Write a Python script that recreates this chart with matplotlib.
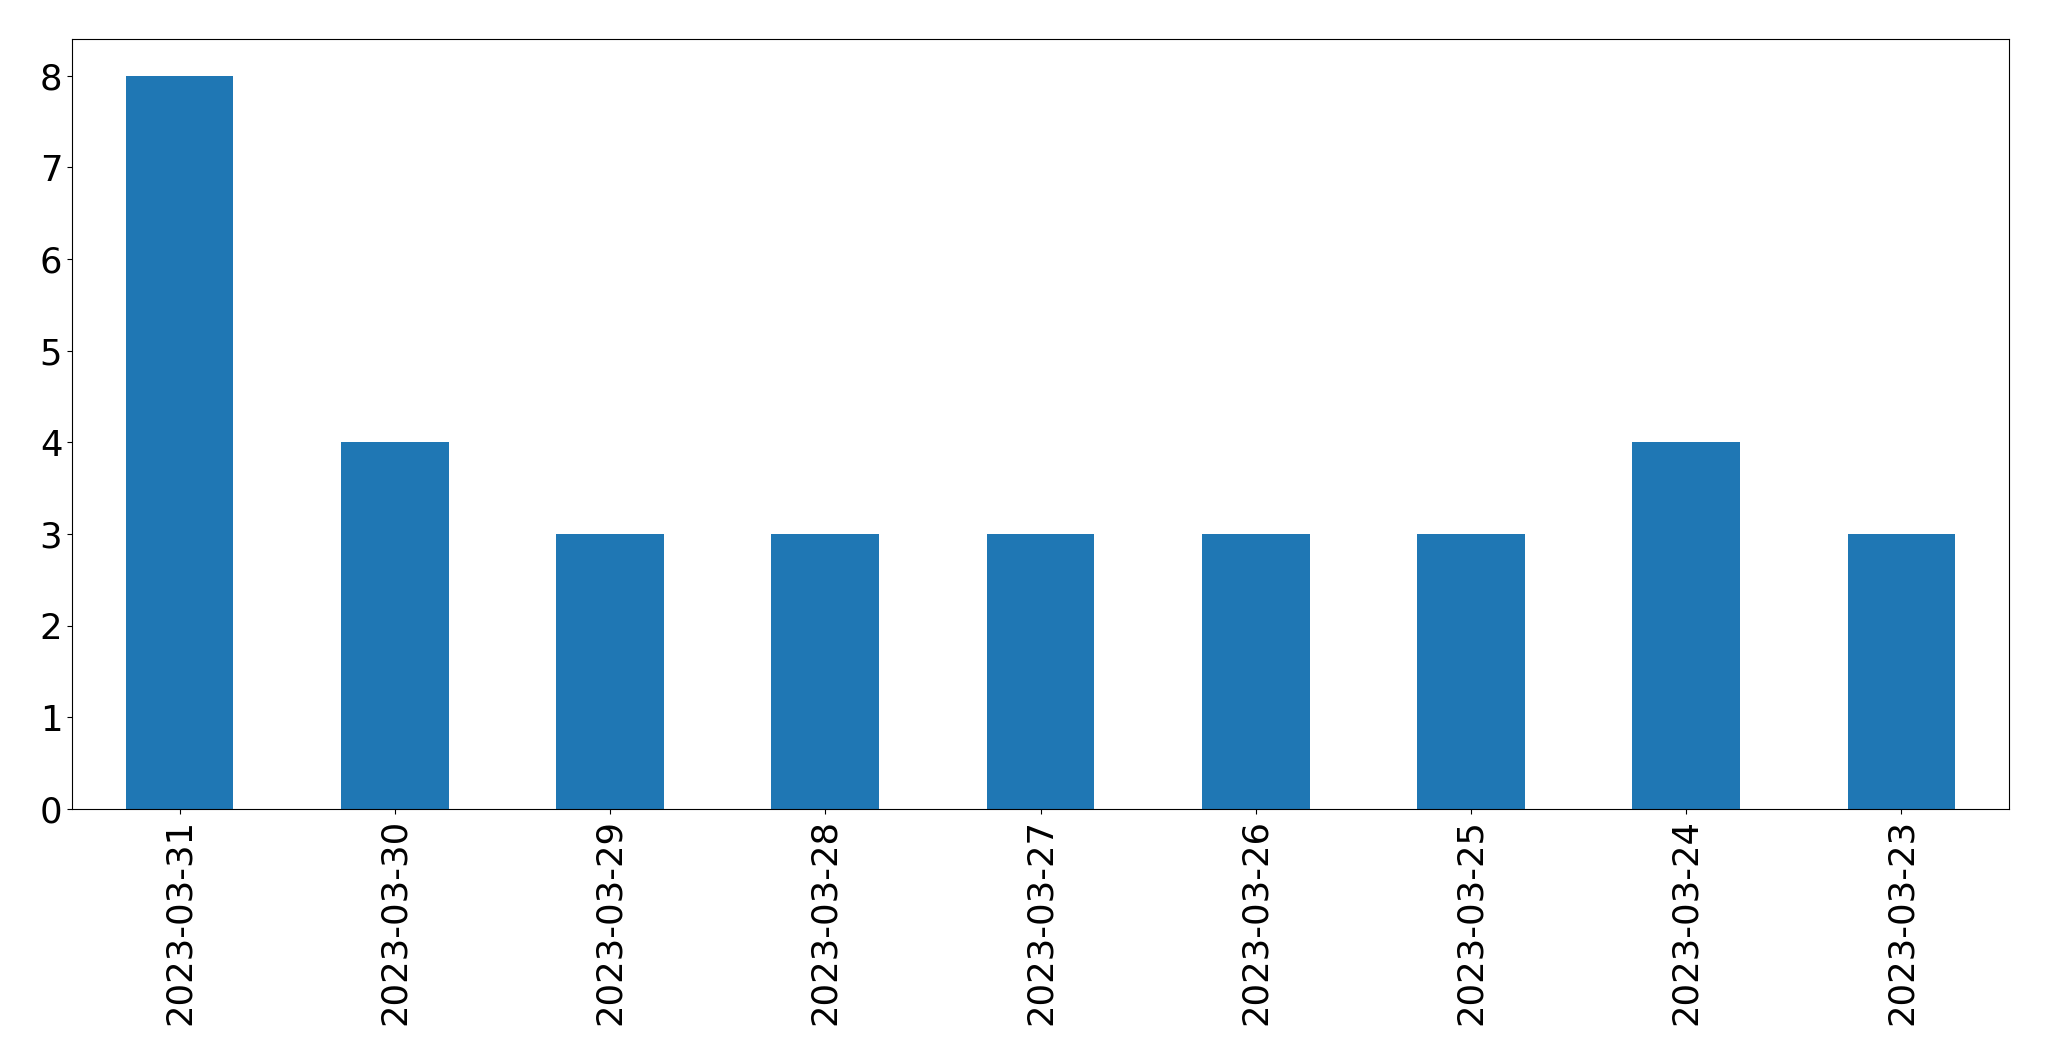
import matplotlib
matplotlib.use("Agg")
import matplotlib.pyplot as plt
import pandas as pd

# daily counts, newest first (as in the original)
fechas = ['2023-03-31', '2023-03-30', '2023-03-29', '2023-03-28', '2023-03-27',
          '2023-03-26', '2023-03-25', '2023-03-24', '2023-03-23']
conteos = [8, 4, 3, 3, 3, 3, 3, 4, 3]

serie = pd.Series(conteos, index=fechas)

fig = plt.figure(figsize=(20.49, 10.61), dpi=100)
ax = fig.add_axes([72 / 2049, 1 - 809 / 1061, (2009 - 72) / 2049, (809 - 39) / 1061])
serie.plot(kind='bar', ax=ax, color='#1f77b4')
ax.tick_params(axis='both', labelsize=25.5)
ax.set_xlabel('')
fig.savefig('out.png', dpi=100)
